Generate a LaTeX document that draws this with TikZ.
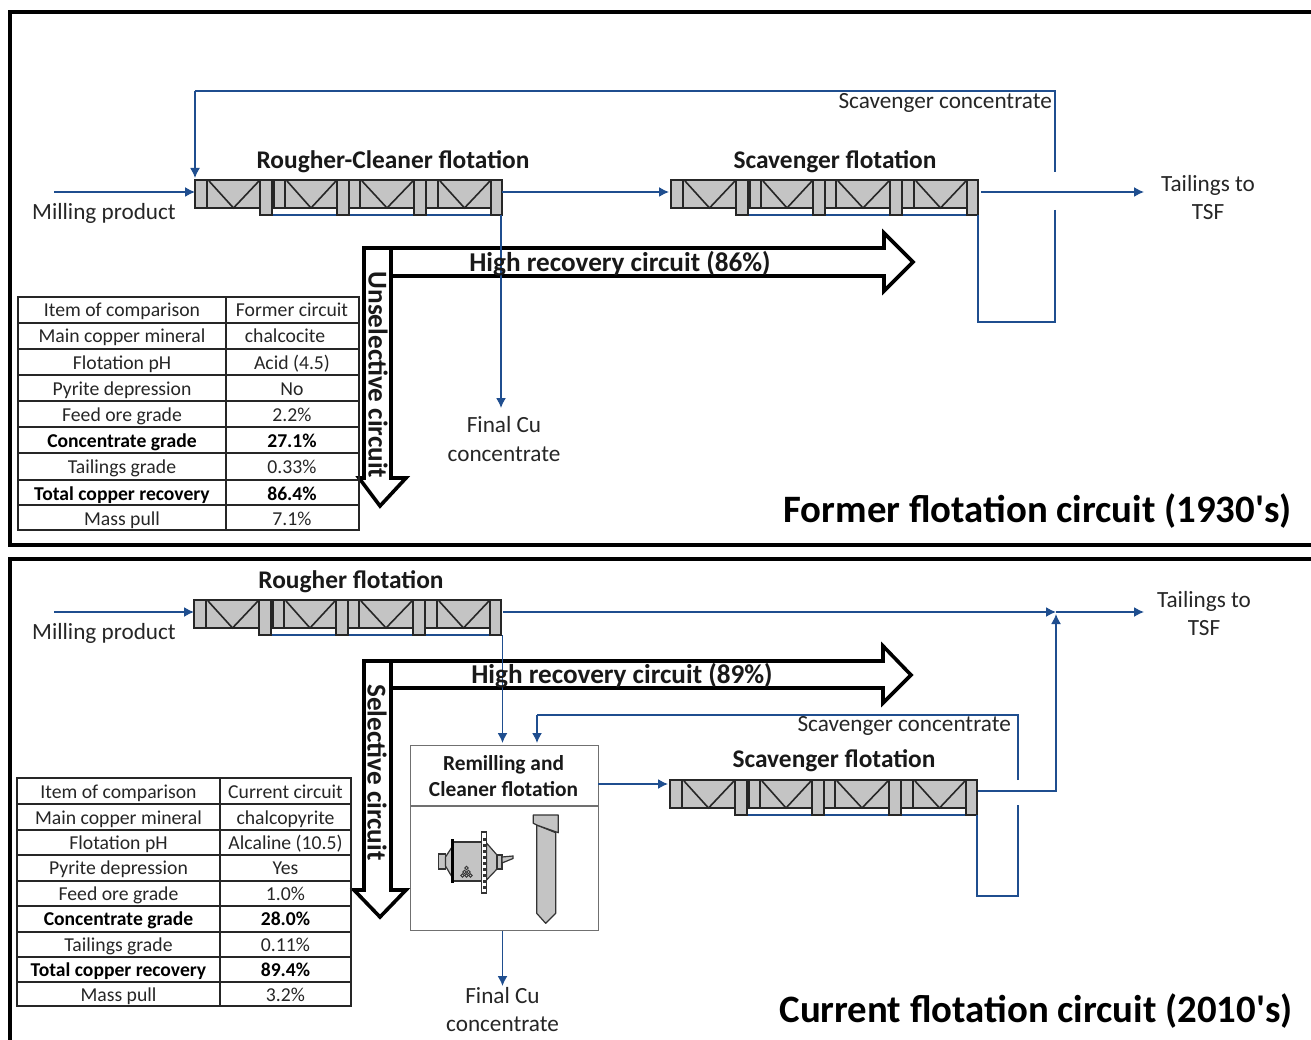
\documentclass[tikz,border=0pt]{standalone}
\usepackage{fontspec}
\setmainfont{Carlito}[Ligatures=TeXOff]
\usetikzlibrary{arrows.meta,calc}
\definecolor{flow}{HTML}{1F4E8F}
\definecolor{cellgray}{HTML}{C4C4C4}
\definecolor{boxgray}{HTML}{707070}
\tikzset{
  x=1pt,y=-1pt,
  flowline/.style={draw=flow,line width=1.5pt},
  flowarrow/.style={flowline,-{Latex[length=10pt,width=10pt]}},
  cell/.style={draw=black!85,fill=cellgray,line width=1.3pt},
  bigarrow/.style={draw=black,fill=white,line width=3.6pt,miter limit=10},
  lbl/.style={font=\fontsize{23.2}{28.5}\selectfont,align=center,inner sep=0pt,text=black!85,yshift=-0.5pt},
  headlbl/.style={font=\fontsize{25.4}{28}\selectfont\bfseries,inner sep=0pt,text=black!90,yshift=-1pt},
  arrowlbl/.style={font=\fontsize{27.2}{30}\selectfont\bfseries,inner sep=0pt,text=black!90,yshift=-1.5pt},
  banner/.style={font=\fontsize{38.8}{42}\selectfont\bfseries,inner sep=0pt,text=black,yshift=-1.5pt},
  tcell/.style={font=\fontsize{19.7}{22}\selectfont,inner sep=0pt,text=black!85,text height=12pt,text depth=4pt,yshift=-3pt},
  tbold/.style={font=\fontsize{19.6}{22}\selectfont\bfseries,inner sep=0pt,text=black,text height=12pt,text depth=4pt,yshift=-3pt},
  grid/.style={draw=black!85,line width=1.1pt},
}
% flotation bank: #1 name, #2 left x, #3 top y
\newcommand{\flotbank}[3]{%
\begin{scope}[shift={(#2,#3)}]
  \draw[flow,line width=1.4pt] (65,35)--(307,35);
  \foreach \a/\b/\c in {0/12/65,79/90/142,154/165/219,231/243/296}{%
    \pgfmathsetmacro{\m}{(\b+\c)/2}
    \filldraw[cell] (\a,0) rectangle (\b,28);
    \filldraw[cell] (\b,0) rectangle (\c,28);
    \draw[black!85,line width=1.6pt] (\b+2,1)--(\m,28)--(\c-1,1);
  }
  \foreach \a/\b in {65/77,142/154,219/231,296/307}{%
    \filldraw[cell] (\a,0) rectangle (\b,35);
  }
  \coordinate (#1-w) at (0,12);
  \coordinate (#1-e) at (307,12);
  \coordinate (#1-s) at (307,35);
\end{scope}}
% table row
\newcommand{\trow}[6]{%
  \node[#6] at (#1,#3) {#4};
  \node[#6] at (#2,#3) {#5};}
\begin{document}
\begin{tikzpicture}
\useasboundingbox (0,0) rectangle (1311,1040);
\clip (0,0) rectangle (1311,1040);
\fill[white] (0,0) rectangle (1311,1040);
% frames
\draw[black,line width=3.4pt] (1320,12)--(10,12)--(10,545)--(1320,545);
\draw[black,line width=3.4pt] (1320,559)--(10,559)--(10,1050);

% ---------- upper circuit ----------
\flotbank{ra}{195}{180}
\flotbank{sa}{671}{180}
\coordinate (ra-in) at (54,192);
\coordinate (sa-out) at (981,192);
\coordinate (ta-out) at (1144,192);
\coordinate (ca-out) at (501,408);
\coordinate (ra-top) at (195,178);
\coordinate (reca-a) at (1055,172);
\coordinate (reca-b) at (1055,91);
\coordinate (reca-c) at (195,91);
\coordinate (taila-a) at (1055,210);
\coordinate (taila-b) at (1055,322);
\coordinate (taila-c) at (978,322);
% big arrows
\path[bigarrow] (391,248)--(884,248)--(884,233)--(913,262)--(884,291)--(884,276)--(391,276)--cycle;
\path[bigarrow] (364,248)--(391,248)--(391,478)--(406,478)--(380,506)--(359,478)--(364,478)--cycle;
% connectors
\draw[flowarrow] (ra-in)--(ra-w);
\draw[flowline] (reca-a)--(reca-b)--(reca-c);
\draw[flowarrow] (reca-c)--(ra-top);
\draw[flowarrow] (ra-e)--($(sa-w)+(-2,0)$);
\draw[flowarrow] (sa-out)--(ta-out);
\draw[flowline] (taila-a)--(taila-b)--(taila-c)--(sa-s);
\draw[flowarrow] (ra-s-|ca-out)--(ca-out);
% labels
\node[headlbl] (ha1) at (393,161) {Rougher-Cleaner flotation};
\node[headlbl] (ha2) at (835,161) {Scavenger flotation};
\node[lbl,anchor=east] (sca) at (1052,102) {Scavenger concentrate};
\node[lbl] (mia) at (104,213) {Milling product};
\node[lbl] (taa) at (1208,197) {Tailings to\\TSF};
\node[lbl] (fca) at (504,438.5) {Final Cu\\concentrate};
\node[arrowlbl] (hra) at (620,262) {High recovery circuit (86\%)};
\node[arrowlbl,rotate=-90] (uns) at (378,373.5) {Unselective circuit};
\node[banner,anchor=east] (tita) at (1292,510) {Former flotation circuit (1930's)};
% table A
\draw[grid] (18,297) rectangle (359,530);
\draw[grid] (226,297)--(226,530);
\foreach \yy in {323,349,375,401,427,453,480,505}{\draw[grid] (18,\yy)--(359,\yy);}
\trow{122}{292}{310}{Item of comparison}{Former circuit}{tcell}
\trow{122}{285}{336}{Main copper mineral}{chalcocite}{tcell}
\trow{122}{292}{362}{Flotation pH}{Acid (4.5)}{tcell}
\trow{122}{292}{388.5}{Pyrite depression}{No}{tcell}
\trow{122}{292}{414.5}{Feed ore grade}{2.2\%}{tcell}
\trow{122}{292}{440.5}{Concentrate grade}{27.1\%}{tbold}
\trow{122}{292}{466.5}{Tailings grade}{0.33\%}{tcell}
\trow{122}{292}{493}{Total copper recovery}{86.4\%}{tbold}
\trow{122}{292}{518.5}{Mass pull}{7.1\%}{tcell}

% ---------- lower circuit ----------
\flotbank{rb}{194}{600}
\flotbank{sb}{670}{780}
% remilling box
\node[draw=boxgray,line width=1.4pt,minimum width=187.5pt,minimum height=185pt,inner sep=0pt,anchor=north west] (rem) at (410,745) {};
\draw[boxgray,line width=1.3pt] (410,806)--(597.5,806);
\node[font=\fontsize{21.4}{26}\selectfont\bfseries,align=center,inner sep=0pt,text=black!90,yshift=-0.5pt] (remt) at (503.5,776) {Remilling and\\Cleaner flotation};
% mill
\begin{scope}[draw=black!80,line width=1.2pt,fill=cellgray]
  \filldraw (438.5,854) rectangle (445.5,869);
  \filldraw (445.5,857)--(452,847)--(452,877)--(445.5,866)--cycle;
  \filldraw (453,842) rectangle (481.5,881);
  \draw[black,line width=2.6pt] (452.5,839)--(452.5,883);
  \filldraw (486.5,843)--(497,855)--(497,869)--(486.5,880)--cycle;
  \filldraw (497,855) rectangle (502,869);
  \filldraw (502,857)--(513,856)--(513,858.5)--(502,863)--cycle;
  \filldraw[fill=white] (481.5,832) rectangle (486.5,893);
  \foreach \yy in {838,844,850,856,862,868,874,880,886}{\fill[black!80] (482.5,\yy) rectangle (485.5,\yy+2.5);}
  \foreach \px/\py in {466.5/868,464.5/872,468.5/872,462.5/875.5,466.5/875.5,470.5/875.5}{\draw[line width=0.9pt] (\px,\py) circle (1.7pt);}
  % column
  \filldraw[line join=round] (536.7,825)--(536.7,913.3)--(545.7,923.3)--(555.7,913.3)--(555.7,832.7)--cycle;
  \filldraw[line join=round] (533.3,815)--(558.3,815)--(558.3,832.7)--(536.7,825)--(533.3,823.3)--cycle;
\end{scope}
% big arrows
\path[bigarrow] (391,661)--(883,661)--(883,646)--(911,675)--(883,703)--(883,688)--(391,688)--cycle;
\path[bigarrow] (364,661)--(391,661)--(391,890)--(406,890)--(380,917)--(354,890)--(364,890)--cycle;
% coordinates
\coordinate (rb-in) at (54,612);
\coordinate (jb) at (1056,612);
\coordinate (tb-out) at (1144,612);
\coordinate (sb-out) at (978,791);
\coordinate (jb-c) at (1056,791);
\coordinate (recb-a) at (1018,780);
\coordinate (recb-b) at (1018,715);
\coordinate (recb-c) at (537,715);
\coordinate (recb-d) at (537,743);
\coordinate (tailb-a) at (1018,805);
\coordinate (tailb-b) at (1018,896);
\coordinate (tailb-c) at (977,896);
\coordinate (rem-n) at (502.5,743);
\coordinate (rem-r) at (598,784);
\coordinate (cb-out) at (502.5,986);
% connectors
\draw[flowarrow] (rb-in)--(rb-w);
\draw[flowarrow] ($(rb-e)+(2,0)$)--(jb);
\draw[flowarrow] (jb)--(tb-out);
\draw[flowarrow] (sb-out)--(jb-c)--($(jb)+(0,2)$);
\draw[flowarrow] (rb-s-|rem-n)--(rem-n);
\draw[flowline] (recb-a)--(recb-b)--(recb-c);
\draw[flowarrow] (recb-c)--(recb-d);
\draw[flowline] (tailb-a)--(tailb-b)--(tailb-c)--(sb-s);
\draw[flowarrow] (rem-r)--($(sb-w)+(-2,-8)$);
\draw[flowarrow] (rem.south-|cb-out)--(cb-out);
% labels
\node[headlbl] (hb1) at (351,581) {Rougher flotation};
\node[headlbl] (hb2) at (834,760) {Scavenger flotation};
\node[lbl,anchor=east] (scb) at (1011,725) {Scavenger concentrate};
\node[lbl] (mib) at (104,633) {Milling product};
\node[lbl] (tab) at (1204,613) {Tailings to\\TSF};
\node[lbl] (fcb) at (502.5,1009) {Final Cu\\concentrate};
\node[arrowlbl] (hrb) at (622,674) {High recovery circuit (89\%)};
\node[arrowlbl,rotate=-90] (sel) at (377,771) {Selective circuit};
\node[banner,anchor=east] (titb) at (1293,1010) {Current flotation circuit (2010's)};
% table B
\draw[grid] (17,778) rectangle (351,1006);
\draw[grid] (220,778)--(220,1006);
\foreach \yy in {804,830,855,881,906,932,957,982}{\draw[grid] (17,\yy)--(351,\yy);}
\trow{118.5}{285.5}{791}{Item of comparison}{Current circuit}{tcell}
\trow{118.5}{285.5}{817}{Main copper mineral}{chalcopyrite}{tcell}
\trow{118.5}{285.5}{842.5}{Flotation pH}{Alcaline (10.5)}{tcell}
\trow{118.5}{285.5}{867.5}{Pyrite depression}{Yes}{tcell}
\trow{118.5}{285.5}{893}{Feed ore grade}{1.0\%}{tcell}
\trow{118.5}{285.5}{918.5}{Concentrate grade}{28.0\%}{tbold}
\trow{118.5}{285.5}{944}{Tailings grade}{0.11\%}{tcell}
\trow{118.5}{285.5}{969}{Total copper recovery}{89.4\%}{tbold}
\trow{118.5}{285.5}{994}{Mass pull}{3.2\%}{tcell}
\end{tikzpicture}
\end{document}
